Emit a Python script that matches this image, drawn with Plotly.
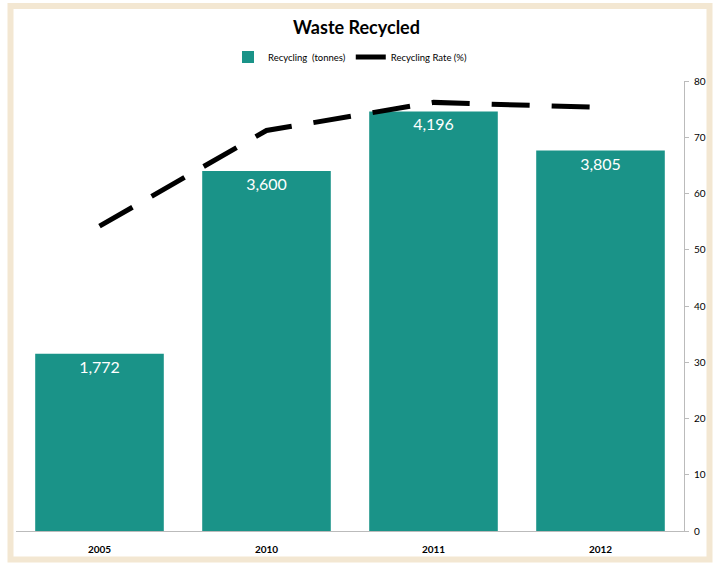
import plotly.graph_objects as go

years = ["2005", "2010", "2011", "2012"]
recycling_tonnes = [1772, 3600, 4196, 3805]
recycling_rate = [54.2, 71.2, 76.2, 75.3]
rate_ticks = [0, 10, 20, 30, 40, 50, 60, 70, 80]

FONT = "Lato, 'Open Sans', sans-serif"
TEAL = "#1A9388"

L, R, T, B = 16, 29, 81, 32
PW, PH = 713 - L - R, 563 - T - B


def px_x(p):
    return (p - L) / PW


def px_y(p):
    return (563 - B - p) / PH


fig = go.Figure()
fig.add_trace(go.Bar(
    x=years, y=recycling_tonnes, name="Recycling  (tonnes)",
    marker=dict(color=TEAL, line=dict(width=0)),
    text=[f"{v:,}" for v in recycling_tonnes],
    textposition="inside", insidetextanchor="end",
    textfont=dict(color="white", size=16, family=FONT),
    yaxis="y",
))
fig.add_trace(go.Scatter(
    x=years, y=recycling_rate, name="Recycling Rate (%)",
    mode="lines", line=dict(color="black", width=5, dash="38px,22px"),
    yaxis="y2",
))

fig.update_layout(
    width=713, height=563,
    paper_bgcolor="white", plot_bgcolor="white",
    margin=dict(l=L, r=R, t=T, b=B, autoexpand=False),
    bargap=0.23,
    title=dict(text="<b>Waste Recycled</b>", x=0.5, xanchor="center", y=1 - 28 / 563, yanchor="middle",
               font=dict(size=18, color="black", family=FONT)),
    legend=dict(orientation="h", x=0.5, xanchor="center", y=px_y(57), yanchor="middle",
                font=dict(size=9.5, color="black", family=FONT), bgcolor="rgba(0,0,0,0)"),
    showlegend=True,
    xaxis=dict(showgrid=False, showline=True, linecolor="#BBBBBB", linewidth=1,
               tickfont=dict(size=10, color="black", family=FONT), ticks="",
               ticklabelstandoff=9, automargin=False,
               tickprefix="<b>", ticksuffix="</b>"),
    yaxis=dict(range=[0, 4500], visible=False, showgrid=False, automargin=False),
    yaxis2=dict(range=[0, 80], overlaying="y", side="right", showgrid=False,
                tickvals=rate_ticks, showline=True, linecolor="#BBBBBB", linewidth=1,
                ticks="outside", ticklen=4, tickcolor="#BBBBBB",
                ticklabelstandoff=3, automargin=False,
                tickprefix="<b>", ticksuffix="</b>",
                tickfont=dict(size=10, color="black", family=FONT), zeroline=False),
)
# beige frame around the chart
fig.add_shape(type="rect", xref="paper", yref="paper",
              x0=px_x(10.5), x1=px_x(709.5), y0=px_y(559.5), y1=px_y(6),
              line=dict(color="#F3E7D2", width=6), layer="above")

fig.write_html("out.html", config={"displayModeBar": False},
               post_script="document.body.style.margin='0';")
